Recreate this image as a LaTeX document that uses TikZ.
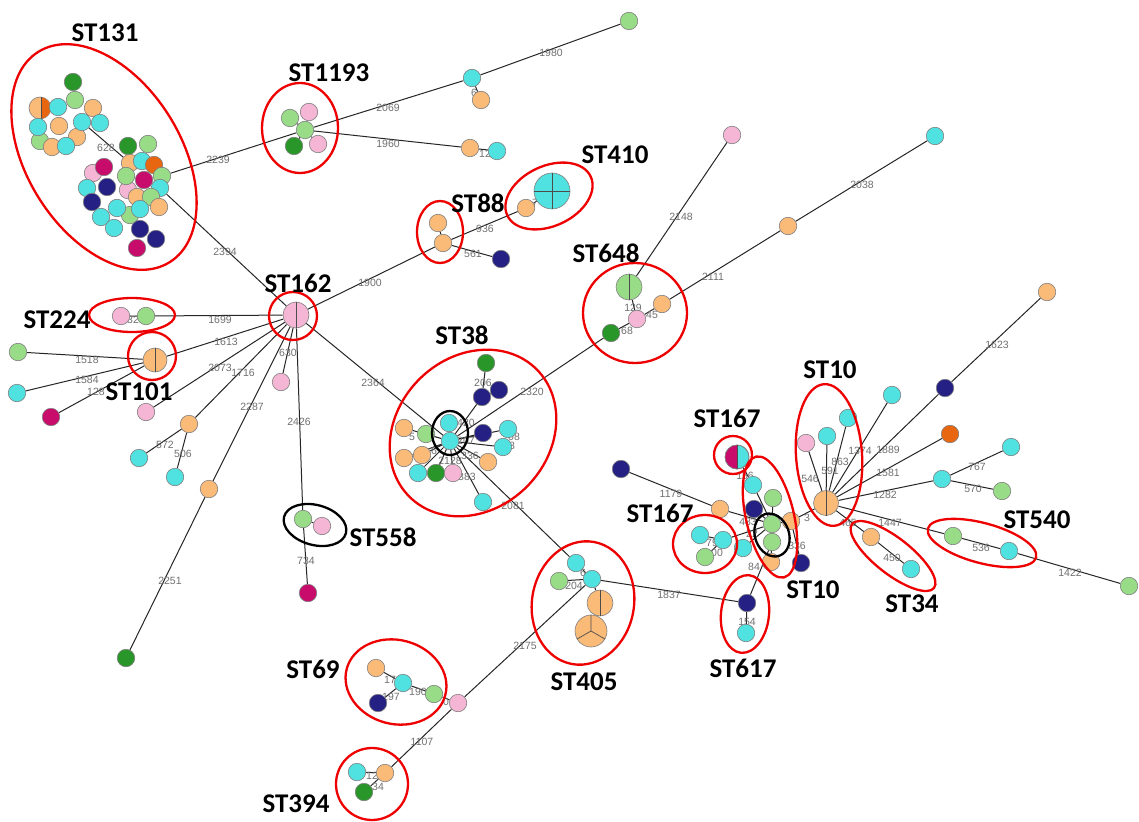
\documentclass[tikz,border=0pt]{standalone}
\usepackage{fontspec}
\setmainfont{Liberation Sans}
\newfontfamily\clusterfont{Carlito}
\definecolor{nOr}{RGB}{250,186,120}
\definecolor{nCy}{RGB}{80,226,224}
\definecolor{nGr}{RGB}{152,220,136}
\definecolor{nDg}{RGB}{40,150,40}
\definecolor{nNv}{RGB}{36,32,132}
\definecolor{nPk}{RGB}{244,182,212}
\definecolor{nCr}{RGB}{200,12,108}
\definecolor{nDo}{RGB}{232,102,16}
\definecolor{nBorder}{RGB}{128,128,128}
\definecolor{labGray}{RGB}{112,112,112}
\definecolor{ringRed}{RGB}{238,0,0}
\pgfdeclarelayer{paper}
\pgfdeclarelayer{edges}
\pgfdeclarelayer{labels}
\pgfsetlayers{paper,edges,labels,main}
\begin{document}
\begin{tikzpicture}[x=1pt,y=-1pt,
  nd/.style={circle, draw=nBorder, line width=0.6pt, minimum size=17.5pt, inner sep=0pt},
  nor/.style={nd, fill=nOr}, ncy/.style={nd, fill=nCy}, ngr/.style={nd, fill=nGr},
  ndg/.style={nd, fill=nDg}, nnv/.style={nd, fill=nNv}, npk/.style={nd, fill=nPk},
  ncr/.style={nd, fill=nCr}, ndo/.style={nd, fill=nDo},
  link/.style={line width=1pt, black!85},
  sect/.style={draw=black!70, line width=0.7pt},
  el/.style={font=\fontsize{10.5}{10.5}\selectfont, text=labGray, inner sep=0pt},
  cl/.style={font=\clusterfont\bfseries\fontsize{27}{30}\selectfont, inner sep=0pt},
  ring/.style={draw=ringRed, line width=2.3pt},
  bring/.style={draw=black, line width=2.3pt}]
\begin{pgfonlayer}{paper}
\fill[white] (0,0) rectangle (1139,821);
\end{pgfonlayer}
\useasboundingbox (0,0) rectangle (1139,821);

% ---------- ST131 ----------
\node[ndg] (u1) at (73,82) {};
\node[ngr] (u2) at (75,100) {};
\node[nor, minimum size=22pt] (u3) at (40,108) {};
\begin{scope}
  \clip ([xshift=1pt]u3.north) rectangle ([xshift=14pt,yshift=-14pt]u3.center);
  \fill[nDo] (u3.center) circle (10.7pt);
\end{scope}
\draw[sect] ([xshift=1pt]u3.north) -- ([xshift=1pt]u3.south);
\node[ncy] (u4) at (58,107) {};
\node[nor] (u5) at (93,108) {};
\node[ngr] (u10) at (40,141) {};
\node[nor] (u11) at (52,147) {};
\node[nor] (u13) at (77,137) {};
\node[ncy] (u6) at (38,127) {};
\node[nor] (u7) at (59,126) {};
\node[ncy] (u8) at (82,122) {};
\node[ncy] (u9) at (100,123) {};
\node[ncy] (u12) at (66,146) {};

\node[ndg] (l1) at (128,146) {};
\node[ngr] (l2) at (148,144) {};
\node[npk] (l6) at (93,173) {};
\node[ncr] (l7) at (104,167) {};
\node[nor] (l3) at (130,163) {};
\node[ncy] (l4) at (142,161) {};
\node[ndo] (l5) at (154,165) {};
\node[npk] (l13) at (128,190) {};
\node[ngr] (l10) at (126,176) {};
\node[ncr] (l11) at (144,180) {};
\node[ngr] (l12) at (162,176) {};
\node[ncy] (l8) at (87,188) {};
\node[nnv] (l9) at (107,187) {};
\node[ncy] (l14) at (160,188) {};
\node[nor] (l15) at (137,197) {};
\node[ngr] (l16) at (151,197) {};
\node[nnv] (l17) at (92,202) {};
\node[nor] (l20) at (159,207) {};
\node[ngr] (l21) at (130,215) {};
\node[ncy] (l18) at (117,208) {};
\node[ncy] (l19) at (140,209) {};
\node[ncy] (l22) at (101,217) {};
\node[ncy] (l23) at (114,228) {};
\node[nnv] (l24) at (140,229) {};
\node[nnv] (l25) at (156,239) {};
\node[ncr] (l26) at (137,248) {};

% ---------- ST1193 and its branches ----------
\node[ngr] (s1) at (290,118) {};
\node[npk] (s2) at (309,112) {};
\node[ndg] (s4) at (294,146) {};
\node[npk] (s5) at (318,144) {};
\node[ngr] (s3) at (305,130) {};
\node[ncy] (t1) at (472,78) {};
\node[ngr] (t2) at (629,21) {};
\node[nor] (t3) at (481,100) {};
\node[nor] (t4) at (470,148) {};
\node[ncy] (t5) at (497,151) {};

% ---------- ST162 and neighbours ----------
\node[npk, minimum size=26pt] (p162) at (296,315) {};
\draw[sect] (p162.north) -- (p162.south);
\node[npk] (a1) at (121,316) {};
\node[ngr] (a2) at (146,316) {};
\node[nor, minimum size=24pt] (b101) at (155,360) {};
\draw[sect] (b101.north) -- (b101.south);
\node[ngr] (b1) at (18,352) {};
\node[ncy] (b2) at (17,393) {};
\node[ncr] (b3) at (51,417) {};
\node[npk] (q1) at (146,412) {};
\node[nor] (q2) at (189,424) {};
\node[ncy] (q3) at (139,458) {};
\node[ncy] (q4) at (175,477) {};
\node[nor] (q5) at (209,489) {};
\node[ndg] (q6) at (126,658) {};
\node[npk] (q7) at (281,382) {};
\node[ngr] (m1) at (303,519) {};
\node[npk] (m2) at (322,526) {};
\node[ncr] (m3) at (308,593) {};

% ---------- ST88, ST410 ----------
\node[nor] (e1) at (438,223) {};
\node[nor] (e2) at (443,243) {};
\node[nnv] (e3) at (501,259) {};
\node[nor] (f1) at (526,208) {};
\node[ncy, minimum size=36pt] (f410) at (552,191) {};
\draw[sect] (f410.north) -- (f410.south) (f410.west) -- (f410.east);

% ---------- ST648 ----------
\node[ngr, minimum size=26pt] (g648) at (629,287) {};
\draw[sect] (g648.north) -- (g648.south);
\node[nor] (g1) at (662,304) {};
\node[npk] (g2) at (637,319) {};
\node[ndg] (g3) at (611,333) {};
\node[npk] (g4) at (732,135) {};
\node[nor] (g5) at (788,226) {};
\node[ncy] (g6) at (935,136) {};
\node[nor] (h1) at (1047,292) {};

% ---------- ST38 ----------
\node[ndg] (k1) at (486,363) {};
\node[nnv] (k3) at (499,390) {};
\node[nnv] (k2) at (482,397) {};
\node[nor] (k6) at (404,428) {};
\node[ngr] (k5) at (426,434) {};
\node[nor] (k7) at (404,458) {};
\node[nor] (k8) at (422,455) {};
\node[ncy] (k9) at (418,473) {};
\node[ndg] (k10) at (436,473) {};
\node[npk] (k11) at (453,473) {};
\node[ncy] (k4) at (449,423) {};
\node[ncy] (k0) at (450,441) {};
\node[nnv] (k12) at (483,433) {};
\node[ncy] (k13) at (508,429) {};
\node[ncy] (k14) at (503,447) {};
\node[nor] (k15) at (488,462) {};
\node[ncy] (k16) at (483,502) {};

% ---------- ST405, ST69, ST394, ST617 ----------
\node[ncy] (r1) at (576,563) {};
\node[ngr] (r3) at (559,581) {};
\node[ncy] (r2) at (592,579) {};
\node[nor, minimum size=26pt] (r4) at (600,603) {};
\draw[sect] (r4.north) -- (r4.south);
\node[nor, minimum size=32pt] (r5) at (591,631) {};
\draw[sect] (r5.center) -- (r5.north) (r5.center) -- (r5.210) (r5.center) -- (r5.330);
\node[nor] (v1) at (376,668) {};
\node[ncy] (v2) at (403,683) {};
\node[nnv] (v3) at (378,703) {};
\node[ngr] (v4) at (434,694) {};
\node[npk] (v5) at (458,703) {};
\node[ncy] (w1) at (357,772) {};
\node[nor] (w2) at (385,773) {};
\node[ndg] (w3) at (364,792) {};
\node[nnv] (x1) at (747,603) {};
\node[ncy] (x2) at (746,633) {};

% ---------- ST167 / ST10 centre ----------
\node[ncy, minimum size=24pt] (y167) at (737,457) {};
\begin{scope}
  \clip ([xshift=-14pt,yshift=14pt]y167.center) rectangle (y167.south);
  \fill[nCr] (y167.center) circle (12pt);
\end{scope}
\draw[nBorder, line width=0.6pt] (y167.center) circle (12pt);
\draw[sect] (y167.north) -- (y167.south);
\node[nnv] (y1) at (621,469) {};
\node[nor] (y2) at (720,509) {};
\node[ncy] (y3) at (753,485) {};
\node[ngr] (y4) at (773,498) {};
\node[nnv] (y5) at (754,509) {};
\node[ncy] (y10) at (743,548) {};
\node[nor] (y8) at (771,562) {};
\node[ngr] (y6) at (772,542) {};
\node[ngr] (y0) at (772,524) {};
\node[nor] (y7) at (791,521) {};
\node[nnv] (y9) at (801,563) {};
\node[ncy] (z1) at (700,535) {};
\node[ncy] (z2) at (723,540) {};
\node[ngr] (z3) at (705,557) {};

% ---------- ST10 hub and the right side ----------
\node[nor, minimum size=25pt] (t10) at (826,503) {};
\draw[sect] (t10.north) -- (t10.south);
\node[npk] (n1) at (806,443) {};
\node[ncy] (n2) at (827,436) {};
\node[ncy] (n3) at (848,418) {};
\node[ncy] (n4) at (892,395) {};
\node[nnv] (n5) at (945,388) {};
\node[ndo] (n6) at (950,434) {};
\node[ncy] (n7) at (942,479) {};
\node[ncy] (n8) at (1011,447) {};
\node[ngr] (n9) at (1002,491) {};
\node[nor] (o1) at (871,537) {};
\node[ncy] (o2) at (911,569) {};
\node[ngr] (j1) at (953,536) {};
\node[ncy] (j2) at (1009,551) {};
\node[ngr] (j3) at (1129,586) {};

% ---------- connectors ----------
\begin{pgfonlayer}{edges}
\draw[link] (u8)--(l3) (l12)--(s3) (l14)--(p162);
\draw[link] (s3)--(s1) (s3)--(s2) (s3)--(s4) (s3)--(s5) (s3)--(t1) (t1)--(t2) (t1)--(t3) (s3)--(t4) (t4)--(t5);
\draw[link] (p162)--(a2) (a1)--(a2) (p162)--(b101) (b101)--(b1) (b101)--(b2) (b101)--(b3)
  (p162)--(q1) (p162)--(q2) (q2)--(q3) (q2)--(q4) (p162)--(q5) (q5)--(q6) (p162)--(q7)
  (p162)--(m1) (m1)--(m2) (m1)--(m3);
\draw[link] (p162)--(e2) (e1)--(e2) (e2)--(e3) (e2)--(f1) (f1)--(f410);
\draw[link] (p162)--(k0);
\draw[link] (k0)--(g3) (g3)--(g2) (g2)--(g648) (g2)--(g1) (g648)--(g4) (g1)--(g5) (g5)--(g6);
\draw[link] (k0)--(k2) (k2)--(k1) (k2)--(k3) (k0)--(k4) (k0)--(k12) (k0)--(k13) (k0)--(k14)
  (k0)--(k15) (k0)--(k16) (k0)--(k5) (k0)--(k6) (k0)--(k7) (k0)--(k8) (k0)--(k9) (k0)--(k10) (k0)--(k11);
\draw[link] (k0)--(r1) (r1)--(r2) (r2)--(r3) (r2)--(r4) (r4)--(r5) (r2)--(x1) (r2)--(v5)
  (v5)--(w2) (v5)--(v4) (v4)--(v2) (v2)--(v1) (v2)--(v3) (w2)--(w1) (w2)--(w3);
\draw[link] (x1)--(x2) (y6)--(x1);
\draw[link] (y1)--(y2) (y2)--(y0) (y0)--(y3) (y3)--(y167) (y0)--(y4) (y0)--(y5) (y0)--(y6)
  (y0)--(y7) (y0)--(y10) (y0)--(z2) (z1)--(z2) (z2)--(z3) (y0)--(y8) (y7)--(y9) (y7)--(t10);
\draw[link] (t10)--(n1) (t10)--(n2) (t10)--(n3) (t10)--(n4) (t10)--(n5) (n5)--(h1) (t10)--(n6)
  (t10)--(n7) (n7)--(n8) (n7)--(n9) (t10)--(j1) (j1)--(j2) (j2)--(j3) (t10)--(o1) (o1)--(o2);
\end{pgfonlayer}

% ---------- distance labels ----------
\begin{pgfonlayer}{labels}
\node[el] (d628) at (106,148) {628};
\node[el] (d2239) at (218,160) {2239};
\node[el] (d2394) at (225,252) {2394};
\node[el] (d2069) at (388,108) {2069};
\node[el] (d1980) at (551,53) {1980};
\node[el] (d6a) at (474,93) {6};
\node[el] (d1960) at (388,144) {1960};
\node[el] (d12a) at (485,154) {12};
\node[el] (d1699) at (220,320) {1699};
\node[el] (d32) at (133,320) {32};
\node[el] (d1613) at (226,342) {1613};
\node[el] (d1518) at (87,360) {1518};
\node[el] (d1584) at (87,380) {1584};
\node[el] (d128) at (96,392) {128};
\node[el] (d2073) at (220,368) {2073};
\node[el] (d1716) at (243,373) {1716};
\node[el] (d572) at (165,445) {572};
\node[el] (d506) at (183,454) {506};
\node[el] (d2287) at (252,407) {2287};
\node[el] (d2251) at (170,581) {2251};
\node[el] (d630) at (288,353) {630};
\node[el] (d2426) at (299,422) {2426};
\node[el] (d734) at (306,561) {734};
\node[el] (d1900) at (370,283) {1900};
\node[el] (d936) at (485,229) {936};
\node[el] (d561) at (473,254) {561};
\node[el] (d7) at (535,203) {7};
\node[el] (d2364) at (373,383) {2364};
\node[el] (d2320) at (532,392) {2320};
\node[el] (d2148) at (681,217) {2148};
\node[el] (d2111) at (713,277) {2111};
\node[el] (d2038) at (862,185) {2038};
\node[el] (d129) at (633,308) {129};
\node[el] (d45) at (652,315) {45};
\node[el] (d68) at (627,331) {68};
\node[el] (d206) at (483,383) {206};
\node[el] (d420) at (466,423) {420};
\node[el] (d207) at (466,441) {207};
\node[el] (d336a) at (470,456) {336};
\node[el] (d2128) at (450,461) {2128};
\node[el] (d383) at (467,477) {383};
\node[el] (d08) at (514,437) {08};
\node[el] (d8) at (512,446) {8};
\node[el] (d5) at (412,437) {5};
\node[el] (d6b) at (434,451) {6};
\node[el] (d2081) at (513,506) {2081};
\node[el] (d6c) at (583,573) {6};
\node[el] (d204) at (574,586) {204};
\node[el] (d1837) at (669,595) {1837};
\node[el] (d2175) at (525,646) {2175};
\node[el] (d1107) at (422,742) {1107};
\node[el] (d17) at (390,680) {17};
\node[el] (d197) at (391,697) {197};
\node[el] (d190) at (418,692) {190};
\node[el] (d0) at (446,702) {0};
\node[el] (d12b) at (372,776) {12};
\node[el] (d34) at (378,787) {34};
\node[el] (d154) at (747,622) {154};
\node[el] (d84) at (754,567) {84};
\node[el] (d1179) at (671,494) {1179};
\node[el] (d156) at (745,476) {156};
\node[el] (d483) at (748,522) {483};
\node[el] (d22) at (752,534) {22};
\node[el] (d79) at (712,543) {79};
\node[el] (d00) at (717,553) {00};
\node[el] (d336b) at (797,546) {336};
\node[el] (d3) at (807,518) {3};
\node[el] (d546) at (810,479) {546};
\node[el] (d591) at (830,471) {591};
\node[el] (d863) at (840,462) {863};
\node[el] (d1374) at (860,451) {1374};
\node[el] (d1889) at (888,450) {1889};
\node[el] (d1623) at (997,345) {1623};
\node[el] (d1581) at (888,473) {1581};
\node[el] (d1282) at (885,495) {1282};
\node[el] (d767) at (977,467) {767};
\node[el] (d570) at (973,489) {570};
\node[el] (d1447) at (890,523) {1447};
\node[el] (d465) at (848,523) {465};
\node[el] (d450) at (892,558) {450};
\node[el] (d536) at (981,548) {536};
\node[el] (d1422) at (1070,573) {1422};
\end{pgfonlayer}

% ---------- cluster outlines ----------
\draw[ring, rotate around={-58:(104,157)}] (104,157) ellipse (124pt and 77pt);
\draw[ring] (300,128) ellipse (38pt and 45pt);
\draw[ring, rotate around={25:(549,196)}] (549,196) ellipse (46pt and 30pt);
\draw[ring] (440,232) ellipse (23pt and 31pt);
\draw[ring] (635,313) ellipse (52pt and 50pt);
\draw[ring] (293,316) circle (24pt);
\draw[ring] (132,315) ellipse (43pt and 17pt);
\draw[ring] (152,356) circle (24pt);
\draw[ring, rotate around={45:(473,433)}] (473,433) ellipse (90pt and 76pt);
\draw[bring] (450,433) ellipse (18pt and 22pt);
\draw[bring, rotate around={-15:(315,525)}] (315,525) ellipse (32pt and 20pt);
\draw[ring, rotate around={-10:(583,603)}] (583,603) ellipse (51pt and 62pt);
\draw[ring, rotate around={-15:(396,682)}] (396,682) ellipse (51pt and 42pt);
\draw[ring] (372,784) circle (36pt);
\draw[ring, rotate around={-6:(745,614)}] (745,614) ellipse (24pt and 39pt);
\draw[ring] (733,455) circle (19pt);
\draw[ring] (705,544) ellipse (32pt and 29pt);
\draw[ring, rotate around={-77:(770,517)}] (770,517) ellipse (62pt and 24pt);
\draw[bring, rotate around={20:(772,535)}] (772,535) ellipse (17pt and 22pt);
\draw[ring, rotate around={4:(829,455)}] (829,455) ellipse (33pt and 71pt);
\draw[ring, rotate around={-38:(893,556)}] (893,556) ellipse (52pt and 18pt);
\draw[ring, rotate around={-15:(982,543)}] (982,543) ellipse (56pt and 20pt);

% ---------- cluster names ----------
\node[cl] (cST131) at (105,33) {ST131};
\node[cl] (cST1193) at (329,73) {ST1193};
\node[cl] (cST410) at (615,155) {ST410};
\node[cl] (cST88) at (478,203) {ST88};
\node[cl] (cST648) at (606,253) {ST648};
\node[cl] (cST162) at (298,283) {ST162};
\node[cl] (cST224) at (57,320) {ST224};
\node[cl] (cST101) at (139,392) {ST101};
\node[cl] (cST38) at (462,335) {ST38};
\node[cl] (cST558) at (383,537) {ST558};
\node[cl] (cST167a) at (727,418) {ST167};
\node[cl] (cST167b) at (660,513) {ST167};
\node[cl] (cST10a) at (830,370) {ST10};
\node[cl] (cST10b) at (813,590) {ST10};
\node[cl] (cST540) at (1037,520) {ST540};
\node[cl] (cST34) at (912,604) {ST34};
\node[cl] (cST617) at (743,668) {ST617};
\node[cl] (cST405) at (584,682) {ST405};
\node[cl] (cST69) at (313,669) {ST69};
\node[cl] (cST394) at (296,804) {ST394};
\end{tikzpicture}
\end{document}
